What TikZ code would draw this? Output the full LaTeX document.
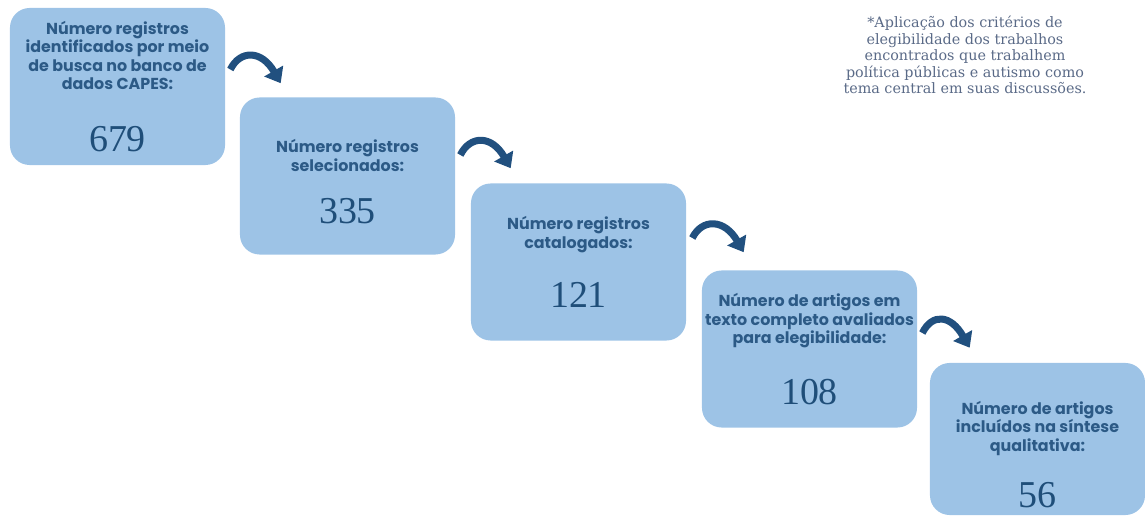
\documentclass[tikz,border=0pt]{standalone}
\usepackage{fontspec}
\setmainfont{Liberation Serif}
\newfontfamily\boxfont{Poppins}
\newfontfamily\notefont{DejaVu Serif}
\usetikzlibrary{arrows.meta,calc}
\definecolor{boxfill}{HTML}{9DC3E6}
\definecolor{boxtext}{HTML}{2C5A86}
\definecolor{numtext}{HTML}{1F4E79}
\definecolor{arrowblue}{HTML}{21507F}
\definecolor{notetext}{HTML}{5A6A87}
\newcommand{\stagenum}[1]{{\rmfamily\mdseries\fontsize{27}{30}\selectfont\color{numtext}#1}}

\begin{document}
\begin{tikzpicture}[
  x=0.025cm, y=-0.025cm,
  stage/.style={fill=boxfill, rounded corners=14pt, minimum width=5.375cm,
                minimum height=3.925cm, align=center, inner sep=2pt,
                font=\boxfont\bfseries\fontsize{11.3}{13.2}\selectfont, text=boxtext},
  flow/.style={line width=5pt, arrowblue,
               -{Triangle[length=10pt, width=15pt]}},
  note/.style={font=\notefont\fontsize{10.2}{11.8}\selectfont, text=notetext, align=center}
]
  \useasboundingbox (0,0) rectangle (1145,517);

  % --- Stages ---
  \node[stage] (identificados) at (117.5, 86.5)
    {N\'umero registros\\identificados por meio\\de busca no banco de\\dados CAPES:\\[25pt]
     \stagenum{679}};
  \node[stage] (selecionados) at (347.5, 176)
    {\rule{0pt}{17pt}N\'umero registros\\selecionados:\\[18pt] \stagenum{335}};
  \node[stage] (catalogados) at (578.5, 262)
    {N\'umero registros\\catalogados:\\[20pt] \stagenum{121}};
  \node[stage] (avaliados) at (809.5, 349)
    {N\'umero de artigos em\\texto completo avaliados\\para elegibilidade:\\[21pt] \stagenum{108}};
  \node[stage, minimum height=3.8cm] (incluidos) at (1037.5, 439)
    {\rule{0pt}{31pt}N\'umero de artigos\\inclu\'idos na s\'intese\\qualitativa:\\[18pt] \stagenum{56}};

  % --- Arrow ends ---
  \coordinate (s1) at ($(identificados.east)+(5,-17)$);
  \coordinate (e1) at ($(selecionados.north west)+(41,-14)$);
  \coordinate (s2) at ($(selecionados.east)+(5,-21)$);
  \coordinate (e2) at ($(catalogados.north west)+(40,-15)$);
  \coordinate (s3) at ($(catalogados.east)+(6,-24)$);
  \coordinate (e3) at ($(avaliados.north west)+(42,-18)$);
  \coordinate (s4) at ($(avaliados.east)+(5,-16)$);
  \coordinate (e4) at ($(incluidos.north west)+(40,-15)$);

  % --- Arrows ---
  \draw[flow] (s1) .. controls +(10,-20) and +(-19,-33) .. (e1);
  \draw[flow] (s2) .. controls +(10,-20) and +(-19,-33) .. (e2);
  \draw[flow] (s3) .. controls +(10,-20) and +(-19,-33) .. (e3);
  \draw[flow] (s4) .. controls +(10,-20) and +(-19,-33) .. (e4);

  % --- Note ---
  \node[note] (criterios) at (965, 55)
    {*Aplica\c{c}\~ao dos crit\'erios de\\elegibilidade dos trabalhos\\encontrados que trabalhem\\
     pol\'itica p\'ublicas e autismo como\\tema central em suas discuss\~oes.};
\end{tikzpicture}
\end{document}
